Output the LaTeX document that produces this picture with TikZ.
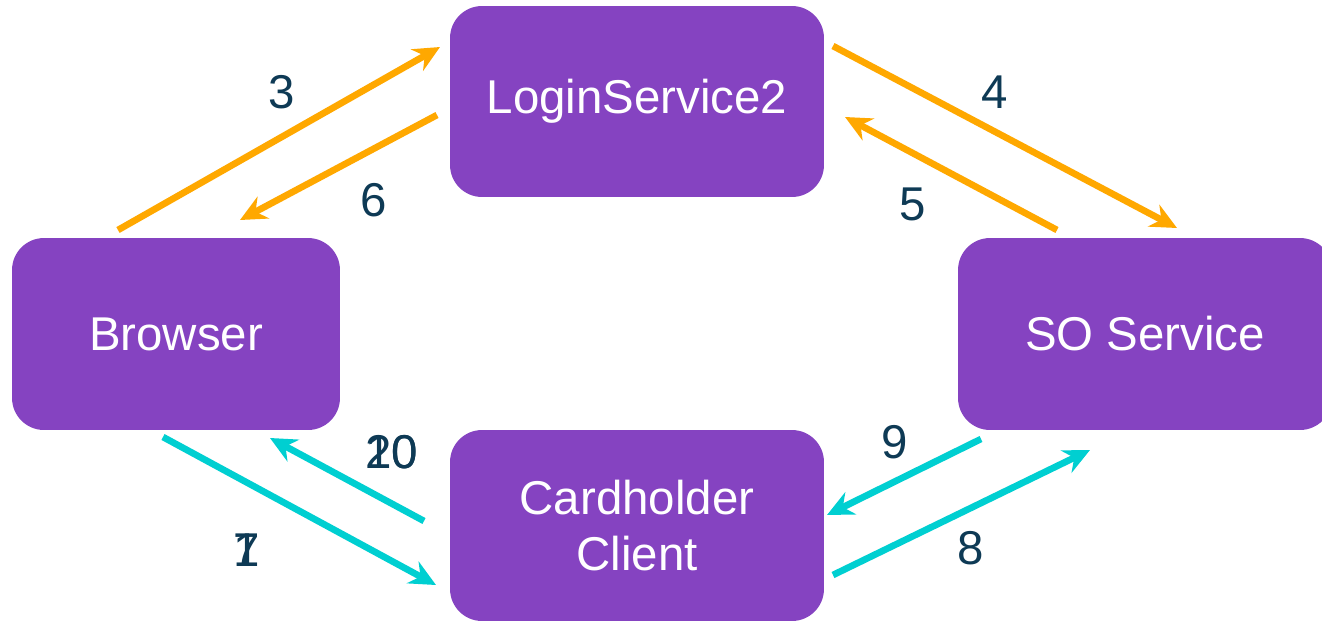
\documentclass[tikz,border=0pt]{standalone}
\usepackage{fontspec}
\setmainfont{Liberation Sans}
\usetikzlibrary{arrows.meta}
\definecolor{boxpurple}{HTML}{8543C1}
\definecolor{flowor}{HTML}{FFA800}
\definecolor{flowcy}{HTML}{00CFD1}
\definecolor{numnavy}{HTML}{0E3A55}
\tikzset{
  svcbox/.style={fill=boxpurple, draw=none, rounded corners=0.64cm,
    text=white, align=center, inner sep=0pt,
    font=\fontsize{27}{31.7}\selectfont},
  flow/.style={line width=3.8pt,
    -{Stealth[length=15pt, width=14pt, inset=5pt]}},
  orflow/.style={flow, draw=flowor},
  cyflow/.style={flow, draw=flowcy},
  steplabel/.style={text=numnavy, inner sep=0pt,
    font=\fontsize{27}{31.7}\selectfont}
}
\begin{document}
\begin{tikzpicture}[x=0.02cm, y=-0.02cm]
  \useasboundingbox (0,0) rectangle (1322,620);
  \fill[white] (0,0) rectangle (1322,620);
  \clip (0,0) rectangle (1322,620);

  % services
  \node[svcbox, minimum width=7.48cm, minimum height=3.82cm] (login) at (637,101.5) {LoginService2};
  \node[svcbox, minimum width=6.56cm, minimum height=3.84cm] (browser) at (176,334) {Browser};
  \node[svcbox, minimum width=7.48cm, minimum height=3.84cm] (so) at (1145,334) {SO Service};
  \node[svcbox, minimum width=7.48cm, minimum height=3.82cm] (card) at (637,525.5) {Cardholder\\Client};

  % login flow
  \draw[orflow] ([shift={(-58,-104)}]browser.center) -- ([shift={(-197,-54.5)}]login.center);
  \draw[orflow] ([shift={(-200,13.5)}]login.center) -- ([shift={(64,-114)}]browser.center);
  \draw[orflow] ([shift={(196,-55.5)}]login.center) -- ([shift={(32,-106)}]so.center);
  \draw[orflow] ([shift={(-88,-104)}]so.center) -- ([shift={(208,15.5)}]login.center);

  % cardholder flow
  \draw[cyflow] ([shift={(-13,103)}]browser.center) -- ([shift={(-201,59.5)}]card.center);
  \draw[cyflow] ([shift={(-213,-4.5)}]card.center) -- ([shift={(94,104)}]browser.center);
  \draw[cyflow] ([shift={(-164,105)}]so.center) -- ([shift={(190,-10.5)}]card.center);
  \draw[cyflow] ([shift={(196,49.5)}]card.center) -- ([shift={(-55,116)}]so.center);

  % step numbers
  \node[steplabel] (l3) at (282,92) {3};
  \node[steplabel] (l4) at (995,92) {4};
  \node[steplabel] (l6) at (374,200) {6};
  \node[steplabel] (l5) at (913,204) {5};
  \node[steplabel] (l9) at (895,442) {9};
  \node[steplabel] (l8) at (971,548) {8};
  \node[steplabel] (l20) at (392,452) {20};
  \node[steplabel] (l10) at (392,452) {10};
  \node[steplabel] (l7) at (247,550) {7};
  \node[steplabel] (l1) at (247,550) {1};
\end{tikzpicture}
\end{document}
